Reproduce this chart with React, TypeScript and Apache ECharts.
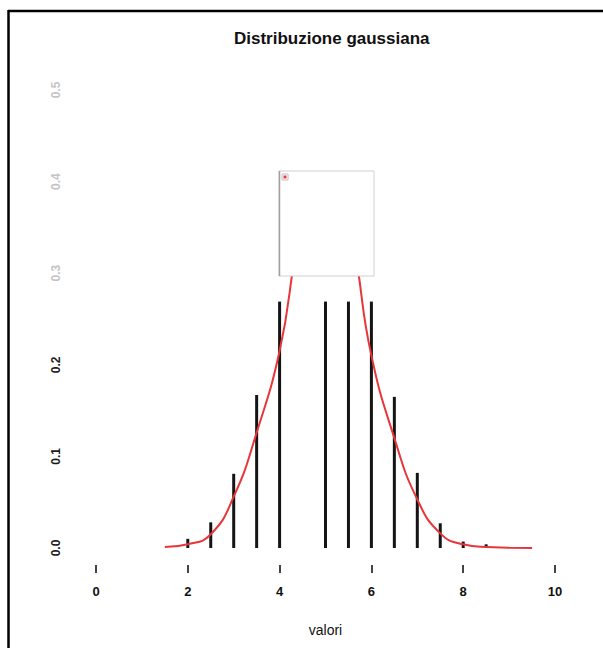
import React, { useEffect, useRef } from "react";
import * as echarts from "echarts";

const title = "Distribuzione gaussiana";
const xName = "valori";
const xTicks = [0, 2, 4, 6, 8, 10];
const yTicks = [0, 0.1, 0.2, 0.3, 0.4, 0.5];

// thin histogram bars (position, density)
const barX = [2, 2.5, 3, 3.5, 4, 5, 5.5, 6, 6.5, 7, 7.5, 8, 8.5];
const barY = [0.01, 0.028, 0.081, 0.167, 0.269, 0.269, 0.269, 0.269, 0.165, 0.082, 0.027, 0.007, 0.004];

// red density curve
const curveX = [1.5, 2, 2.5, 3, 3.5, 4, 4.5, 5, 5.5, 6, 6.5, 7, 7.5, 8, 8.5, 9, 9.5];
const curveY = [0.001, 0.004, 0.015, 0.056, 0.126, 0.215, 0.35, 0.4, 0.35, 0.21, 0.12, 0.053, 0.016, 0.004, 0.001, 0.0004, 0.0001];

export default function App() {
  const ref = useRef<HTMLDivElement>(null);
  useEffect(() => {
    if (!ref.current) return;
    const chart = echarts.init(ref.current, null, { renderer: "svg" });
    const font = "Liberation Sans, Arial, sans-serif";
    chart.setOption({
      animation: false,
      backgroundColor: "#ffffff",
      title: {
        text: title,
        left: 229,
        top: 25,
        textStyle: { fontSize: 17, fontWeight: "bold", color: "#111", fontFamily: font },
      },
      grid: [
        { left: 96, top: 90, width: 459, height: 458 },
        { left: 96, top: 564, width: 459, height: 1 },
      ],
      xAxis: [
        {
          type: "value",
          gridIndex: 0,
          min: 0,
          max: 10,
          interval: 2,
          axisLine: { show: false },
          axisTick: { show: false },
          axisLabel: { show: false },
          splitLine: { show: false },
        },
        {
          type: "value",
          gridIndex: 1,
          min: 0,
          max: 10,
          interval: 2,
          name: xName,
          nameLocation: "middle",
          nameGap: 58,
          nameTextStyle: { fontSize: 14, color: "#111", fontFamily: font },
          axisLine: { show: false },
          axisTick: { show: true, length: 8, lineStyle: { color: "#444", width: 2 } },
          axisLabel: {
            margin: 20,
            fontSize: 13,
            fontWeight: "bold",
            color: "#111",
            fontFamily: font,
            formatter: (v: number) => (xTicks.includes(v) ? String(v) : ""),
          },
          splitLine: { show: false },
        },
      ],
      yAxis: [
        {
          type: "value",
          gridIndex: 0,
          min: 0,
          max: 0.5,
          interval: 0.1,
          axisLine: { show: false },
          axisTick: { show: false },
          splitLine: { show: false },
          axisLabel: {
            rotate: 90,
            margin: 34,
            fontSize: 12,
            fontWeight: "bold",
            fontFamily: font,
            color: (v: number) => (v > 0.25 ? "#c4c4c4" : "#1a1a1a"),
            formatter: (v: number) => {
              const t = yTicks.find((y) => Math.abs(y - v) < 1e-9);
              return t === undefined ? "" : t.toFixed(1);
            },
          },
        },
        {
          type: "value",
          gridIndex: 1,
          min: 0,
          max: 1,
          show: false,
        },
      ],
      series: [
        {
          type: "bar",
          xAxisIndex: 0,
          yAxisIndex: 0,
          data: barX.map((x, i) => [x, barY[i]]),
          barWidth: 3,
          itemStyle: { color: "#141414" },
          z: 2,
        },
        {
          type: "line",
          xAxisIndex: 0,
          yAxisIndex: 0,
          data: curveX.map((x, i) => [x, curveY[i]]),
          smooth: true,
          showSymbol: false,
          lineStyle: { color: "#e8353a", width: 2 },
          z: 3,
        },
      ],
      graphic: [
        { type: "line", shape: { x1: 8, y1: 11, x2: 603, y2: 11 }, style: { stroke: "#000", lineWidth: 2.5 }, z: 10 },
        { type: "line", shape: { x1: 8.5, y1: 10, x2: 8.5, y2: 648 }, style: { stroke: "#000", lineWidth: 2.5 }, z: 10 },
        {
          type: "rect",
          shape: { x: 279, y: 171, width: 95, height: 105 },
          style: { fill: "#ffffff", stroke: "#d0d0d0", lineWidth: 1 },
          z: 20,
        },
        { type: "line", shape: { x1: 279.5, y1: 171, x2: 279.5, y2: 276 }, style: { stroke: "#a0a0a0", lineWidth: 1.5 }, z: 21 },
        {
          type: "rect",
          shape: { x: 282, y: 174, width: 6, height: 6 },
          style: { fill: "#ffffff", stroke: "#c0c0c0", lineWidth: 1 },
          z: 21,
        },
        {
          type: "rect",
          shape: { x: 283.5, y: 175.5, width: 3, height: 3 },
          style: { fill: "#f03a3a" },
          z: 22,
        },
      ],
    });
    return () => chart.dispose();
  }, []);
  return (
    <div
      ref={ref}
      style={{ position: "absolute", left: 0, top: 0, width: 603, height: 648 }}
    />
  );
}
